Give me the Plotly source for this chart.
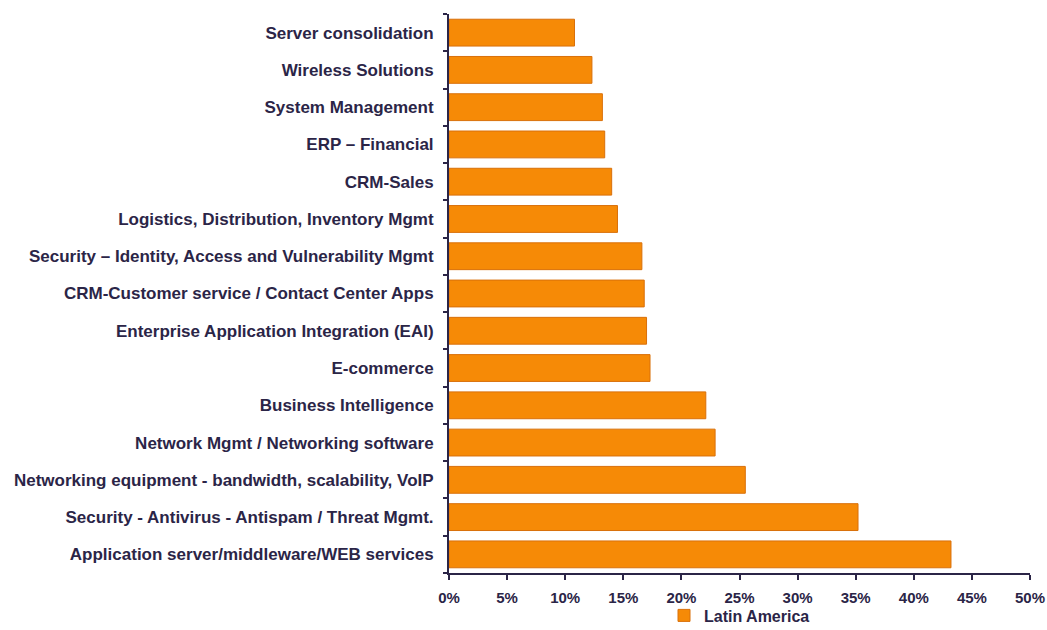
import plotly.graph_objects as go

# Categories listed bottom-to-top as drawn on the y axis
categories = [
    "Application server/middleware/WEB services",
    "Security - Antivirus - Antispam / Threat Mgmt.",
    "Networking equipment - bandwidth, scalability, VoIP",
    "Network Mgmt / Networking software",
    "Business Intelligence",
    "E-commerce",
    "Enterprise Application Integration (EAI)",
    "CRM-Customer service / Contact Center Apps",
    "Security – Identity, Access and Vulnerability Mgmt",
    "Logistics, Distribution, Inventory Mgmt",
    "CRM-Sales",
    "ERP – Financial",
    "System Management",
    "Wireless Solutions",
    "Server consolidation",
]
latin_america = [43.2, 35.2, 25.5, 22.9, 22.1, 17.3, 17.0, 16.8, 16.6,
                 14.5, 14.0, 13.4, 13.2, 12.3, 10.8]
x_ticks = [0, 5, 10, 15, 20, 25, 30, 35, 40, 45, 50]
x_tick_labels = [f"{v}%" for v in x_ticks]

ink = "#2B2547"
bar_fill = "#F68A06"
bar_edge = "#D9700A"
family = "Liberation Sans, Arial, sans-serif"
label_font = dict(family=family, size=17, color=ink, weight="bold")

fig = go.Figure(
    go.Bar(
        x=latin_america,
        y=categories,
        orientation="h",
        name="Latin America",
        marker=dict(color=bar_fill, line=dict(color=bar_edge, width=1)),
    )
)

fig.update_layout(
    width=1047,
    height=630,
    margin=dict(l=449, r=17, t=14, b=57, autoexpand=False),
    paper_bgcolor="white",
    plot_bgcolor="white",
    bargap=0.28,
    font=label_font,
    showlegend=True,
    legend=dict(
        orientation="h",
        x=0.5,
        xanchor="center",
        yref="container",
        y=0.05,
        yanchor="top",
        bgcolor="rgba(0,0,0,0)",
        font=dict(family=family, size=16, color=ink, weight="bold"),
        itemwidth=30,
        tracegroupgap=0,
    ),
)

fig.update_xaxes(
    range=[0, 50],
    tickvals=x_ticks,
    ticktext=x_tick_labels,
    showgrid=False,
    zeroline=False,
    showline=True,
    linecolor=ink,
    linewidth=2,
    ticks="outside",
    ticklen=5,
    tickwidth=1.5,
    tickcolor=ink,
    ticklabelstandoff=5,
    tickfont=dict(family=family, size=15, color=ink, weight="bold"),
)

fig.update_yaxes(
    type="category",
    categoryorder="array",
    categoryarray=categories,
    range=[-0.5, len(categories) - 0.5],
    showgrid=False,
    zeroline=False,
    showline=True,
    linecolor=ink,
    linewidth=2,
    ticks="outside",
    tickson="boundaries",
    ticklen=4,
    tickwidth=1.5,
    tickcolor=ink,
    ticklabelstandoff=10,
    tickfont=label_font,
)

fig.write_html("out.html")
